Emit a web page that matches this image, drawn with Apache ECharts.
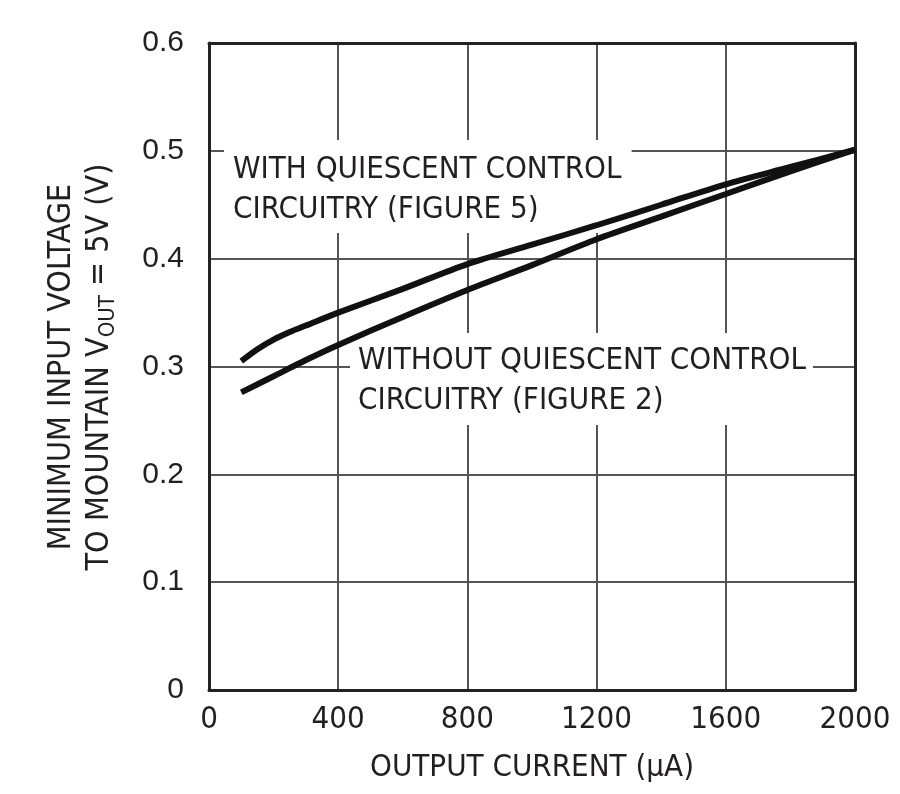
<!DOCTYPE html>
<html>
<head>
<meta charset="utf-8">
<script src="https://cdn.jsdelivr.net/npm/echarts@6/dist/echarts.min.js"></script>
<style>
	html, body { margin: 0; padding: 0; background: #fff; }
	#chart { width: 900px; height: 794px; }
</style>
</head>
<body>
<div id="chart"></div>
<script>
	// 数据
	var xTicks = [0, 400, 800, 1200, 1600, 2000];
	var yTicks = [0, 0.1, 0.2, 0.3, 0.4, 0.5, 0.6];

	var withCurrent = [100, 150, 200, 250, 300, 400, 600, 800, 1000, 1200, 1400, 1600, 1800, 2000];
	var withVolt = [0.305, 0.316, 0.325, 0.332, 0.338, 0.350, 0.372, 0.395, 0.413, 0.431, 0.450, 0.469, 0.485, 0.501];

	var withoutCurrent = [100, 200, 300, 400, 600, 800, 1000, 1200, 1400, 1600, 1800, 2000];
	var withoutVolt = [0.276, 0.291, 0.306, 0.320, 0.346, 0.371, 0.394, 0.418, 0.439, 0.460, 0.481, 0.501];

	var ink = '#231f20';
	var narrow = '"DejaVu Sans Condensed", "Liberation Sans Narrow", sans-serif';

	function pairs(xs, ys) {
		var out = [];
		for (var i = 0; i < xs.length; i++) {
			out.push([xs[i], ys[i]]);
		}
		return out;
	}

	var myChart = echarts.init(document.getElementById('chart'));
	var option = {
		backgroundColor: '#fff',
		animation: false,
		grid: {
			left: 209,
			right: 45,
			top: 43,
			bottom: 104
		},
		xAxis: [{
			type: 'value',
			min: xTicks[0],
			max: xTicks[xTicks.length - 1],
			interval: 400,
			name: 'OUTPUT CURRENT (µA)',
			nameLocation: 'middle',
			nameGap: 62,
			nameTextStyle: { color: ink, fontFamily: narrow, fontSize: 31 },
			axisLine: { show: true, lineStyle: { color: '#222', width: 3 } },
			axisTick: { show: false },
			axisLabel: {
				color: ink,
				fontFamily: narrow,
				fontSize: 31,
				margin: 14,
				formatter: function(v) { return String(v); }
			},
			splitLine: { show: true, lineStyle: { color: '#555', width: 2 } }
		}, {
			type: 'value',
			position: 'top',
			min: 0,
			max: 2000,
			axisLine: { show: true, onZero: false, lineStyle: { color: '#222', width: 3 } },
			axisTick: { show: false },
			axisLabel: { show: false },
			splitLine: { show: false }
		}],
		yAxis: [{
			type: 'value',
			min: yTicks[0],
			max: yTicks[yTicks.length - 1],
			interval: 0.1,
			axisLine: { show: true, lineStyle: { color: '#222', width: 3 } },
			axisTick: { show: false },
			axisLabel: {
				color: ink,
				fontFamily: '"Liberation Sans", Arial, sans-serif',
				fontSize: 30,
				margin: 25,
				formatter: function(v) { return v === 0 ? '0' : v.toFixed(1); }
			},
			splitLine: { show: true, lineStyle: { color: '#555', width: 2 } }
		}, {
			type: 'value',
			position: 'right',
			min: 0,
			max: 0.6,
			axisLine: { show: true, onZero: false, lineStyle: { color: '#222', width: 3 } },
			axisTick: { show: false },
			axisLabel: { show: false },
			splitLine: { show: false }
		}],
		graphic: [{
			// 纵轴标题
			type: 'text',
			x: 81,
			y: 367,
			rotation: Math.PI / 2,
			style: {
				text: '{a|MINIMUM INPUT VOLTAGE}\n{a|TO MOUNTAIN V}{s|OUT}{a| = 5V (V)}',
				align: 'center',
				verticalAlign: 'middle',
				fill: ink,
				rich: {
					a: { fontFamily: narrow, fontSize: 32, lineHeight: 38, fill: ink, verticalAlign: 'middle' },
					s: { fontFamily: narrow, fontSize: 22, lineHeight: 22, fill: ink, verticalAlign: 'bottom' }
				}
			}
		}, {
			type: 'text',
			left: 224,
			top: 140,
			z: 50,
			style: {
				text: 'WITH QUIESCENT CONTROL\nCIRCUITRY (FIGURE 5)',
				fill: ink,
				fontFamily: narrow,
				fontSize: 31,
				lineHeight: 40,
				backgroundColor: '#fff',
				padding: [10, 10, 3, 9]
			}
		}, {
			type: 'text',
			left: 350,
			top: 333,
			z: 50,
			style: {
				text: 'WITHOUT QUIESCENT CONTROL\nCIRCUITRY (FIGURE 2)',
				fill: ink,
				fontFamily: narrow,
				fontSize: 31,
				lineHeight: 40,
				backgroundColor: '#fff',
				padding: [8, 7, 4, 8]
			}
		}],
		series: [{
			name: 'WITH QUIESCENT CONTROL',
			type: 'line',
			smooth: 0.3,
			showSymbol: false,
			z: 60,
			lineStyle: { color: '#111', width: 6, cap: 'butt' },
			data: pairs(withCurrent, withVolt)
		}, {
			name: 'WITHOUT QUIESCENT CONTROL',
			type: 'line',
			smooth: 0.3,
			showSymbol: false,
			z: 60,
			lineStyle: { color: '#111', width: 6, cap: 'butt' },
			data: pairs(withoutCurrent, withoutVolt)
		}]
	};
	myChart.setOption(option);
</script>
</body>
</html>
